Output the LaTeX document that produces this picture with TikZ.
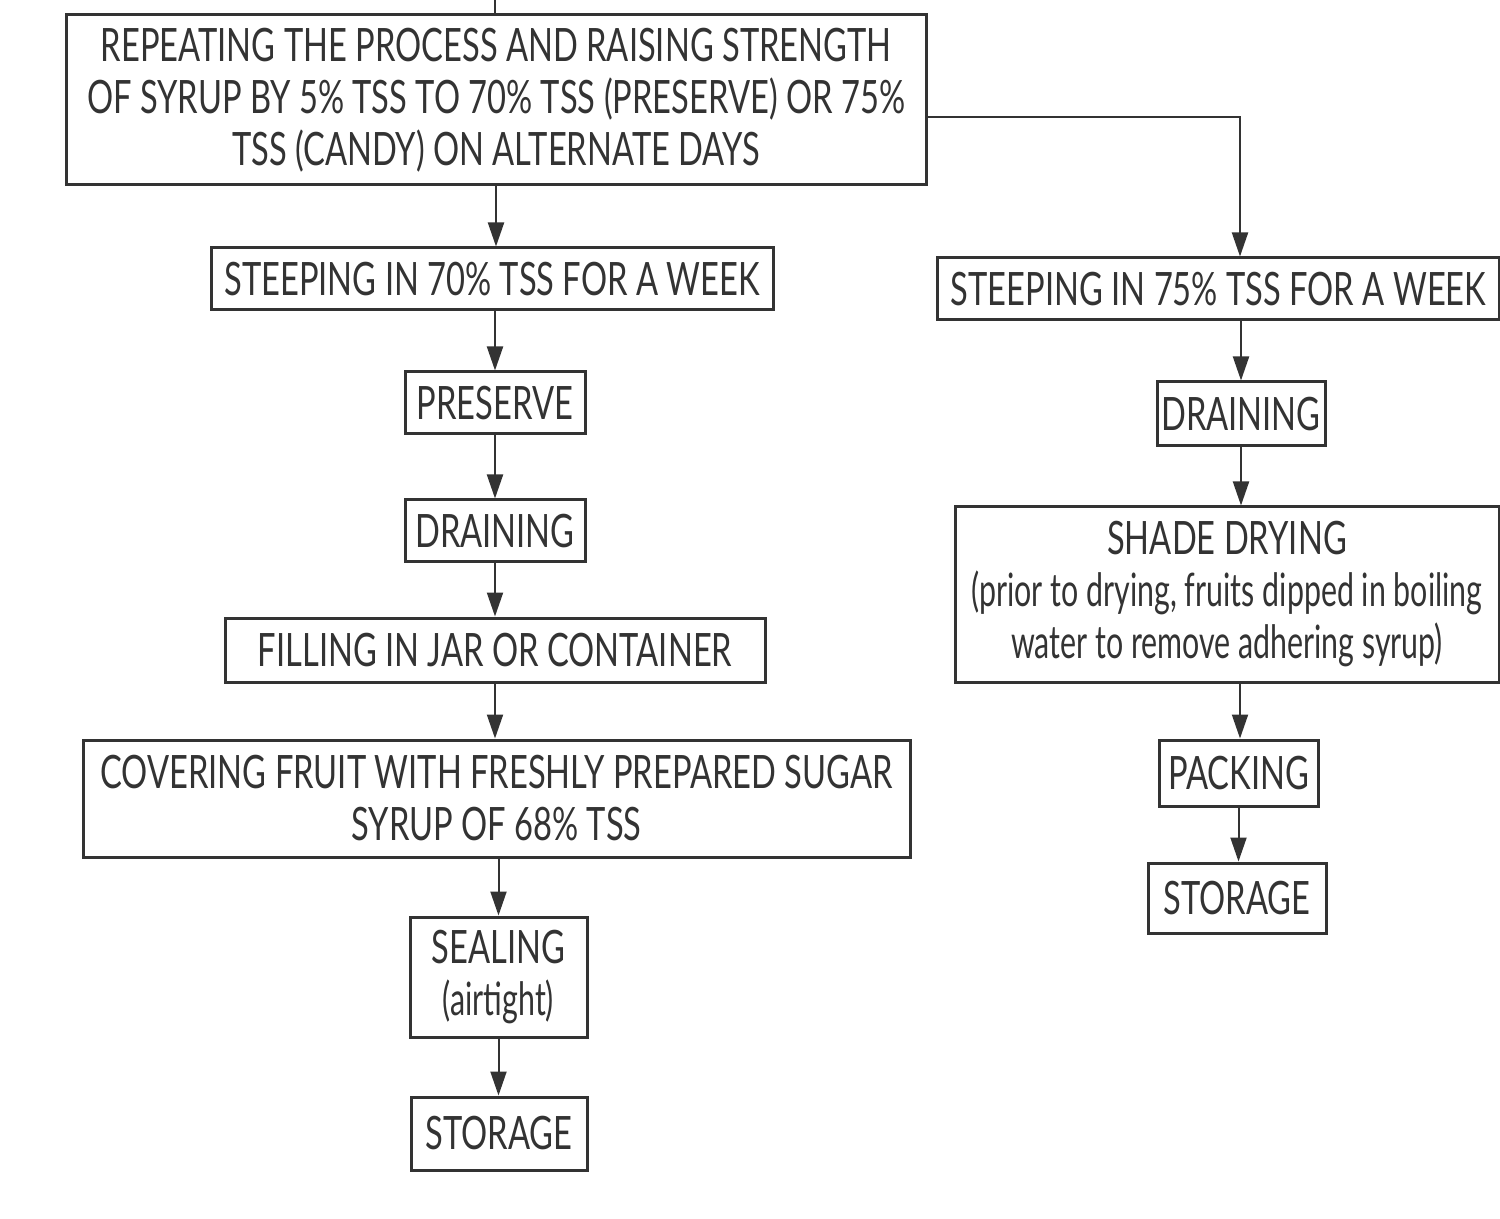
\documentclass[tikz,border=0pt]{standalone}
\usepackage{fontspec}
\setmainfont{Lato}[FakeStretch=0.71]
\newfontfamily\lcfont{Lato}[FakeStretch=0.66]
\usetikzlibrary{arrows.meta,calc}
\definecolor{ink}{HTML}{333333}
\begin{document}
\begin{tikzpicture}[x=0.5pt,y=-0.5pt,
  box/.style={draw=ink, line width=1.5pt, fill=white, inner sep=0pt, align=center,
    font=\fontsize{23}{26}\selectfont, text=ink},
  conn/.style={draw=ink, line width=1pt},
  arr/.style={conn, -{Triangle[length=12pt,width=8pt]}}]
\fill[white] (0,0) rectangle (1500,1219);
\useasboundingbox (0,0) rectangle (1500,1219);
% left column
\node[box, minimum width=430pt, minimum height=85pt] (top) at (496,100)
  {REPEATING THE PROCESS AND RAISING STRENGTH\\OF SYRUP BY 5\% TSS TO 70\% TSS (PRESERVE) OR 75\%\\TSS (CANDY) ON ALTERNATE DAYS};
\node[box, minimum width=281pt, minimum height=31pt] (s70) at (492,279) {STEEPING IN 70\% TSS FOR A WEEK};
\node[box, minimum width=90pt, minimum height=31pt] (pres) at (495,403) {PRESERVE};
\node[box, minimum width=90pt, minimum height=31pt] (drainL) at (495,531) {DRAINING};
\node[box, minimum width=270pt, minimum height=32pt] (fill) at (495,650) {FILLING IN JAR OR CONTAINER};
\node[box, minimum width=413.5pt, minimum height=58.5pt] (cover) at (496.5,798.5)
  {COVERING FRUIT WITH FRESHLY PREPARED SUGAR\\SYRUP OF 68\% TSS};
\node[box, minimum width=88.5pt, minimum height=60pt] (seal) at (498.5,977) {SEALING\\{\lcfont(airtight)}};
\node[box, minimum width=88pt, minimum height=36.5pt] (storL) at (499,1133.5) {STORAGE};
% right column
\node[box, minimum width=281pt, minimum height=31pt] (s75) at (1218.5,289) {STEEPING IN 75\% TSS FOR A WEEK};
\node[box, minimum width=272pt, minimum height=32pt, minimum width=84pt] (drainR) at (1241,414) {DRAINING};
\node[box, minimum width=272pt, minimum height=87.5pt] (shade) at (1227,594.5)
  {SHADE DRYING\\{\lcfont(prior to drying, fruits dipped in boiling}\\{\lcfont water to remove adhering syrup)}};
\node[box, minimum width=79.5pt, minimum height=33pt] (pack) at (1238.5,773) {PACKING};
\node[box, minimum width=89pt, minimum height=35pt] (storR) at (1237,898) {STORAGE};
% connectors
\coordinate (topin) at (495,0);
\coordinate (rx) at (1240,0);
\draw[conn] (topin) -- (topin |- top.north);
\draw[arr] (top.south) -- (top.south |- s70.north);
\draw[arr] (pres.north |- s70.south) -- (pres.north);
\draw[arr] (pres.south) -- (pres.south |- drainL.north);
\draw[arr] (drainL.south) -- (drainL.south |- fill.north);
\draw[arr] (fill.south) -- (fill.south |- cover.north);
\draw[arr] (seal.north |- cover.south) -- (seal.north);
\draw[arr] (seal.south) -- (seal.south |- storL.north);
\draw[arr] ($(top.east)+(0,17)$) -| (rx |- s75.north);
\draw[arr] (drainR.north |- s75.south) -- (drainR.north);
\draw[arr] (drainR.south) -- (drainR.south |- shade.north);
\draw[arr] (rx |- shade.south) -- (rx |- pack.north);
\draw[arr] (pack.south) -- (pack.south |- storR.north);
\end{tikzpicture}
\end{document}
